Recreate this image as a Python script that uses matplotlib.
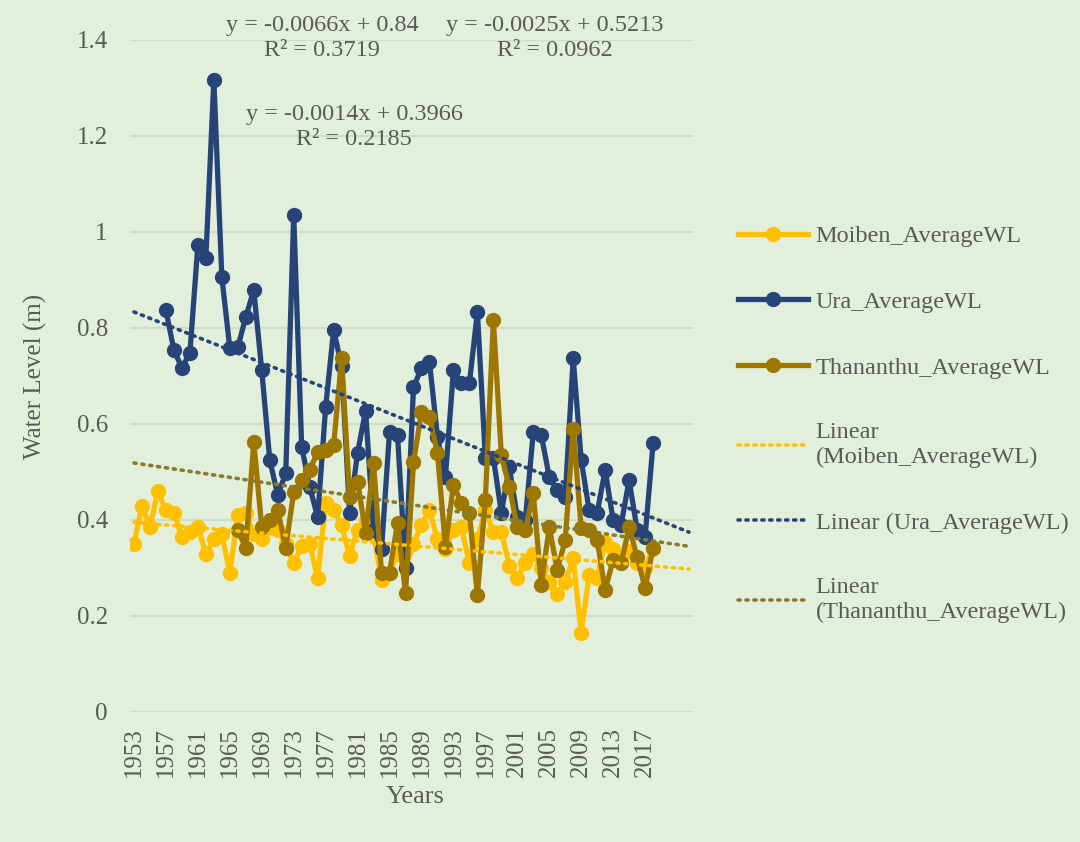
import numpy as np
import matplotlib
matplotlib.use("Agg")
import matplotlib.pyplot as plt

# ---------------- data ----------------
years = list(range(1953, 2019))

moiben = [0.35, 0.43, 0.385, 0.46, 0.42, 0.415, 0.365, 0.375, 0.385, 0.33,
          0.36, 0.37, 0.29, 0.41, 0.415, 0.37, 0.36, 0.39, 0.38, 0.35,
          0.31, 0.345, 0.35, 0.28, 0.435, 0.42, 0.39, 0.325, 0.38, 0.40,
          0.37, 0.275, 0.29, 0.33, 0.30, 0.35, 0.39, 0.42, 0.36, 0.34,
          0.38, 0.385, 0.31, 0.36, 0.42, 0.375, 0.375, 0.305, 0.28, 0.31,
          0.33, 0.30, 0.27, 0.245, 0.27, 0.32, 0.165, 0.285, 0.28, 0.355,
          0.34, 0.32, 0.335, 0.31, 0.30, 0.34]

ura_years = list(range(1957, 2019))
ura = [0.837, 0.754, 0.717, 0.748, 0.973, 0.946, 1.317, 0.906, 0.758, 0.76,
       0.823, 0.879, 0.712, 0.525, 0.452, 0.497, 1.035, 0.552, 0.469, 0.406,
       0.635, 0.796, 0.72, 0.415, 0.54, 0.628, 0.38, 0.34, 0.584, 0.577,
       0.30, 0.677, 0.716, 0.73, 0.573, 0.49, 0.712, 0.685, 0.685, 0.833,
       0.53, 0.53, 0.415, 0.51, 0.406, 0.40, 0.583, 0.577, 0.49, 0.462,
       0.448, 0.737, 0.525, 0.42, 0.415, 0.504, 0.40, 0.39, 0.483, 0.38,
       0.365, 0.56]

than_years = list(range(1966, 2019))
thananthu = [0.379, 0.342, 0.562, 0.385, 0.40, 0.42, 0.342, 0.458, 0.483, 0.504,
             0.542, 0.546, 0.556, 0.737, 0.448, 0.48, 0.373, 0.518, 0.29, 0.29,
             0.394, 0.248, 0.52, 0.625, 0.615, 0.54, 0.344, 0.473, 0.435, 0.414,
             0.244, 0.442, 0.817, 0.535, 0.469, 0.385, 0.38, 0.456, 0.265, 0.385,
             0.296, 0.358, 0.59, 0.383, 0.38, 0.358, 0.254, 0.317, 0.31, 0.385,
             0.323, 0.258, 0.342]

# trendline equations as printed on the chart (x = category index, 1 = 1953)
trend_slopes = {"Moiben": -0.0014, "Ura": -0.0066, "Thananthu": -0.0025}
trend_intercepts = {"Moiben": 0.3966, "Ura": 0.84, "Thananthu": 0.5213}
trend_r2 = {"Moiben": 0.2185, "Ura": 0.3719, "Thananthu": 0.0962}

xtick_years = list(range(1953, 2018, 4))
ytick_vals = [0, 0.2, 0.4, 0.6, 0.8, 1.0, 1.2, 1.4]
ytick_labels = ["0", "0.2", "0.4", "0.6", "0.8", "1", "1.2", "1.4"]

# ---------------- style ----------------
BG = "#E2EFDA"
GRID = "#CFDCC7"
TXT = "#595959"
C_MOI = "#FFC000"
C_URA = "#264478"
C_THA = "#9E7700"

plt.rcParams["font.family"] = ["Liberation Serif", "DejaVu Serif"]
FS = 18
FS2 = 17.5

fig = plt.figure(figsize=(10.8, 8.42), dpi=100, facecolor=BG)
ax = fig.add_axes([130 / 1080, 1 - 712 / 842, (693 - 130) / 1080, (712 - 40) / 842])
ax.set_facecolor(BG)

lw = 3.8
ms = 10
ax.plot(years, moiben, color=C_MOI, lw=lw, marker="o", ms=ms, zorder=3,
        label="Moiben_AverageWL")
ax.plot(ura_years, ura, color=C_URA, lw=lw, marker="o", ms=ms, zorder=4,
        label="Ura_AverageWL")
ax.plot(than_years, thananthu, color=C_THA, lw=lw, marker="o", ms=ms, zorder=5,
        label="Thananthu_AverageWL")

# trend lines (index 1 .. ~70.5, i.e. with forward forecast)
idx = np.linspace(1, 70.5, 200)
tyears = 1952 + idx
dot = (0, (0.6, 1.6))
for key, col, lab in [("Moiben", C_MOI, "Linear\n(Moiben_AverageWL)"),
                      ("Ura", C_URA, "Linear (Ura_AverageWL)"),
                      ("Thananthu", "#8A7A2E", "Linear\n(Thananthu_AverageWL)")]:
    ax.plot(tyears, trend_intercepts[key] + trend_slopes[key] * idx,
            color=col, lw=2.6, linestyle=dot, dash_capstyle="round", zorder=6,
            label=lab)

ax.set_xlim(1952.5, 2023.0)
ax.set_ylim(0, 1.4)
ax.set_xticks(xtick_years)
ax.set_xticklabels([str(y) for y in xtick_years], rotation=90, fontsize=FS, color=TXT)
ax.set_yticks(ytick_vals)
ax.set_yticklabels(ytick_labels, fontsize=FS, color=TXT)
ax.tick_params(axis="both", length=0)
ax.tick_params(axis="x", pad=11)
ax.tick_params(axis="y", pad=16)
ax.grid(axis="y", color=GRID, lw=1.6, zorder=0)
ax.set_axisbelow(True)
for s in ax.spines.values():
    s.set_visible(False)

fig.text(35 / 1080, 1 - 376 / 842, "Water Level (m)", rotation=90, ha="center",
         va="center", fontsize=FS, color=TXT)
fig.text(415 / 1080, 1 - 797 / 842, "Years", ha="center", va="center",
         fontsize=FS + 1, color=TXT)

# trendline equation labels
def eq_label(key):
    return "y = {:.4g}x + {:.4g}\nR\u00b2 = {:.4f}".format(
        trend_slopes[key], trend_intercepts[key], trend_r2[key])

for key, xc, yc in [("Ura", 322, 38), ("Thananthu", 555, 38), ("Moiben", 354, 127)]:
    fig.text(xc / 1080, 1 - yc / 842, eq_label(key), ha="center", va="center",
             multialignment="center", fontsize=FS2, color=TXT, linespacing=1.3)

handles, labels = ax.get_legend_handles_labels()
leg = fig.legend(handles, labels, loc="center left",
                 bbox_to_anchor=(716 / 1080, 1 - 424 / 842),
                 frameon=False, fontsize=FS2, labelcolor=TXT, handlelength=2.9,
                 handletextpad=0.3, labelspacing=1.8, numpoints=1,
                 borderpad=0.4)
for t in leg.get_texts():
    t.set_color(TXT)

fig.savefig("out.png", dpi=100, facecolor=BG)
